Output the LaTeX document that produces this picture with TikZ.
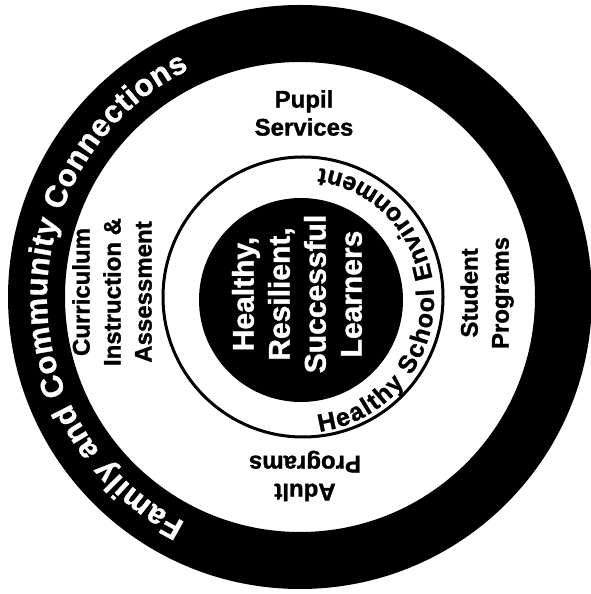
\documentclass[tikz,border=0pt]{standalone}
\usepackage{fontspec}
\setmainfont{Liberation Sans}[BoldFont={Liberation Sans Bold}, BoldFeatures={FakeBold=1.2}]
\usetikzlibrary{decorations.text}
\begin{document}
\begin{tikzpicture}[x=1pt,y=1pt,
  ringlabel/.style={font=\bfseries\fontsize{24}{31}\selectfont, align=center, inner sep=0pt, text=black},
  corelabel/.style={font=\bfseries\fontsize{30}{36}\selectfont, align=center, inner sep=0pt, text=white}]
\useasboundingbox (0,0) rectangle (590,594);
\fill[white] (0,0) rectangle (590,594);

% centres of the rings
\coordinate (c) at (300,297);
\coordinate (mid) at (303,297);
\coordinate (core) at (301,294);

% outer black ring
\fill[black, even odd rule] (c) circle[radius=292] (c) circle[radius=235];
% thin circle of the school environment
\draw[line width=3pt] (mid) circle[radius=140];
% black core disc
\fill[black] (core) circle[radius=102];

% curved labels
\path[decorate, decoration={text along path, text align=fit to path,
  text={|\color{white}\bfseries\fontsize{31}{31}\selectfont|Family and Community Connections}}]
  (c) ++(243:253) arc[start angle=243, end angle=116, radius=253];
\path[decorate, decoration={text along path, text align=fit to path,
  text={|\bfseries\fontsize{25}{25}\selectfont|Healthy School Environment}}]
  (core) ++(-82:133) arc[start angle=-82, end angle=82, radius=133];

% labels of the middle ring
\node[ringlabel, font=\bfseries\fontsize{24}{28}\selectfont] (pupil) at (304,481) {Pupil\\Services};
\node[ringlabel, rotate=90] (curric) at (112,302) {Curriculum\\Instruction \&\\Assessment};
\node[ringlabel, rotate=90] (student) at (487,301) {Student\\Programs};
\node[ringlabel, font=\bfseries\fontsize{24}{28}\selectfont, rotate=180] (adult) at (305,118) {Adult\\Programs};

% core label
\node[corelabel, rotate=90] (learners) at (297,300) {Healthy,\\Resilient,\\Successful\\Learners};
\end{tikzpicture}
\end{document}
